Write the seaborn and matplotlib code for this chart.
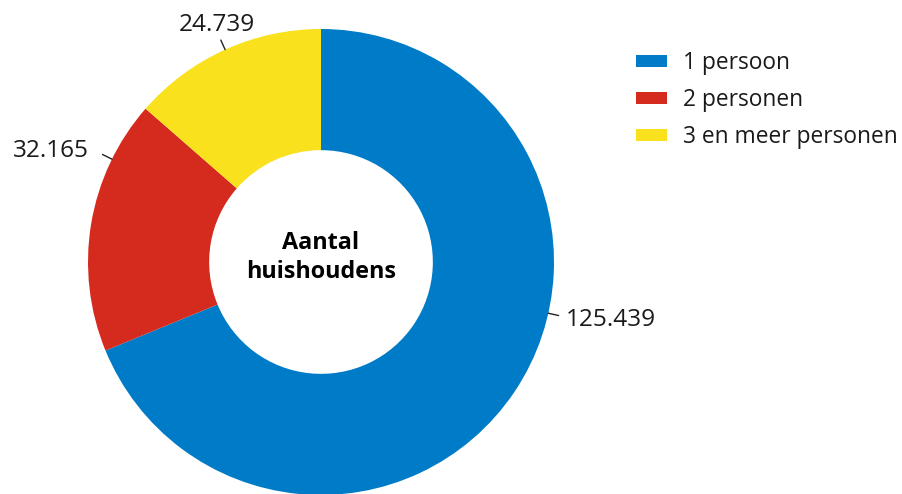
import numpy as np
import matplotlib
matplotlib.use("Agg")
import matplotlib.pyplot as plt
import seaborn as sns
from matplotlib.patches import Patch

# Data
categories = ["1 persoon", "2 personen", "3 en meer personen"]
values = [125439, 32165, 24739]
value_labels = ["125.439", "32.165", "24.739"]
colors = ["#007BC7", "#D52B1E", "#F9E11E"]

sns.set_theme(style="white")
plt.rcParams["font.family"] = ["Open Sans", "DejaVu Sans"]

FS_NUM = 17.6
FS_LEG = 16.4
FS_CTR = 16.8
fig = plt.figure(figsize=(9.02, 4.94), dpi=100)
W, H = 902, 494
cx, cy, R = 321, 262, 233
ax = fig.add_axes([(cx - R) / W, (H - cy - R) / H, 2 * R / W, 2 * R / H])

wedges, _ = ax.pie(values, colors=sns.color_palette(colors), startangle=90,
                   counterclock=False, radius=1.0,
                   wedgeprops=dict(width=0.52, edgecolor="none", linewidth=0))
ax.set_xlim(-1, 1)
ax.set_ylim(-1, 1)
ax.set_aspect("equal")
ax.axis("off")
for w in wedges:
    w.set_clip_on(False)

# label layout: (angle in degrees, text radius, ha, va)
label_layout = [(-12.7, 1.075, "left", "center_baseline"),
                (153.8, 1.11, "right", "center_baseline"),
                (114.3, 1.088, "center", "baseline")]
for lab, (ang, rt, ha, va) in zip(value_labels, label_layout):
    t = np.deg2rad(ang)
    ax.plot([np.cos(t) * 1.0, np.cos(t) * 1.045], [np.sin(t) * 1.0, np.sin(t) * 1.045],
            color="#222222", lw=1.0, clip_on=False)
    ax.text(np.cos(t) * rt, np.sin(t) * rt, lab, ha=ha, va=va, fontsize=FS_NUM,
            color="#1a1a1a")

ax.text(0, 0.02, "Aantal\nhuishoudens", ha="center", va="center", fontsize=FS_CTR,
        fontweight="bold", color="#000000", linespacing=1.3)

handles = [Patch(facecolor=c, edgecolor="none") for c in colors]
fig.legend(handles, categories, loc="upper left", bbox_to_anchor=(636 / W, 1 - 51 / H),
           frameon=False, fontsize=FS_LEG, handlelength=1.37, handleheight=0.44,
           handletextpad=0.7, labelspacing=0.57, borderpad=0, borderaxespad=0,
           labelcolor="#1a1a1a")

fig.savefig("out.png", dpi=100)
